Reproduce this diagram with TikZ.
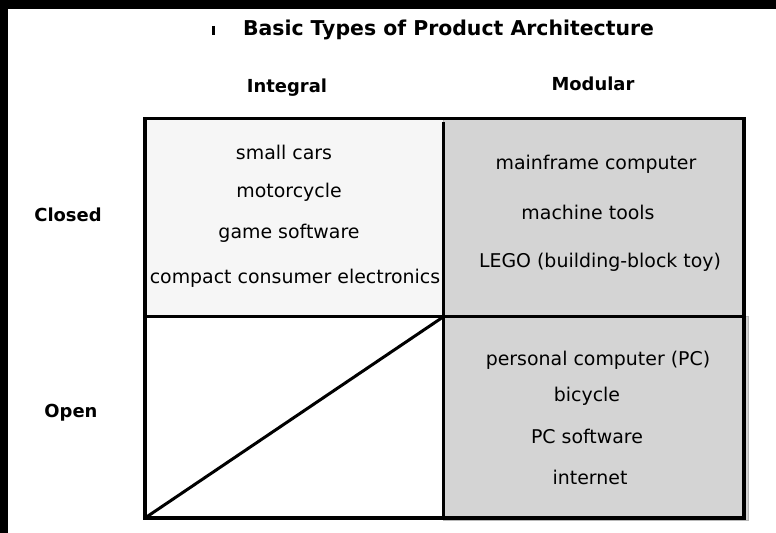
\documentclass[tikz,border=0pt]{standalone}
\usepackage{fontspec}
\setmainfont{DejaVu Sans}
\definecolor{lightcell}{HTML}{F6F6F6}
\definecolor{darkcell}{HTML}{D4D4D4}
\definecolor{celledge}{HTML}{B8B8B8}
\begin{document}
\begin{tikzpicture}[x=1bp,y=-1bp,
  body/.style={font=\fontsize{19}{22}\selectfont, anchor=base, inner sep=0pt},
  head/.style={font=\fontsize{18}{21}\selectfont\bfseries, anchor=base, inner sep=0pt},
  titletext/.style={font=\fontsize{20.5}{24}\selectfont\bfseries, anchor=base, inner sep=0pt},
  outer/.style={line width=3.6bp},
  divider/.style={line width=3bp},
  thindivider/.style={line width=2.4bp},
]
\useasboundingbox (0,0) rectangle (776,533);
% page background, overfilled past the page edges
\fill[white] (-20,-20) rectangle (796,553);
% black strips along the top and left edges
\fill[black] (-20,-20) rectangle (796,9);
\fill[black] (-20,-20) rectangle (8,553);

% grid corners
\coordinate (nw) at (145,118.5);
\coordinate (ne) at (744,118.5);
\coordinate (sw) at (145,518);
\coordinate (se) at (744,518);
\coordinate (mw) at (145,316.7);
\coordinate (me) at (744,316.7);
\coordinate (mc) at (443.5,316.7);
\coordinate (mt) at (443.5,122);
\coordinate (mb) at (443.5,518);

% cell fills
\fill[lightcell, draw=celledge, line width=0.8bp] (145,118.5) rectangle (443.5,316.7);
\fill[darkcell, draw=celledge, line width=0.8bp] (443.5,118.5) rectangle (744,316.7);
\fill[darkcell, draw=celledge, line width=0.8bp] (443.5,316.7) rectangle (748.7,520);

% grid lines
\draw[outer] (nw) rectangle (se);
\draw[divider] (mw) -- (me);
\draw[thindivider] (mt) -- (mb);
\draw[divider] (sw) -- (mc);

% title
\draw[line width=2.2bp] (213.5,26) -- (213.5,35);
\node[titletext] (title) at (448.5,35.5) {Basic Types of Product Architecture};

% column and row headings
\node[head] (integral) at (287,93) {Integral};
\node[head] (modular) at (593,91) {Modular};
\node[head] (closed) at (68,221.7) {Closed};
\node[head] (open) at (71,417) {Open};

% integral / closed
\node[body] (smallcars) at (284,160) {small cars};
\node[body] (motorcycle) at (289,197.3) {motorcycle};
\node[body] (gamesw) at (289,238.3) {game software};
\node[body] (compact) at (295,284) {compact consumer electronics};

% modular / closed
\node[body] (mainframe) at (596,169.3) {mainframe computer};
\node[body] (machine) at (588,219.3) {machine tools};
\node[body] (lego) at (600,267.3) {LEGO (building-block toy)};

% modular / open
\node[body] (pc) at (598,365) {personal computer (PC)};
\node[body] (bicycle) at (587,401.7) {bicycle};
\node[body] (pcsw) at (587,443) {PC software};
\node[body] (internet) at (590,484) {internet};
\end{tikzpicture}
\end{document}
